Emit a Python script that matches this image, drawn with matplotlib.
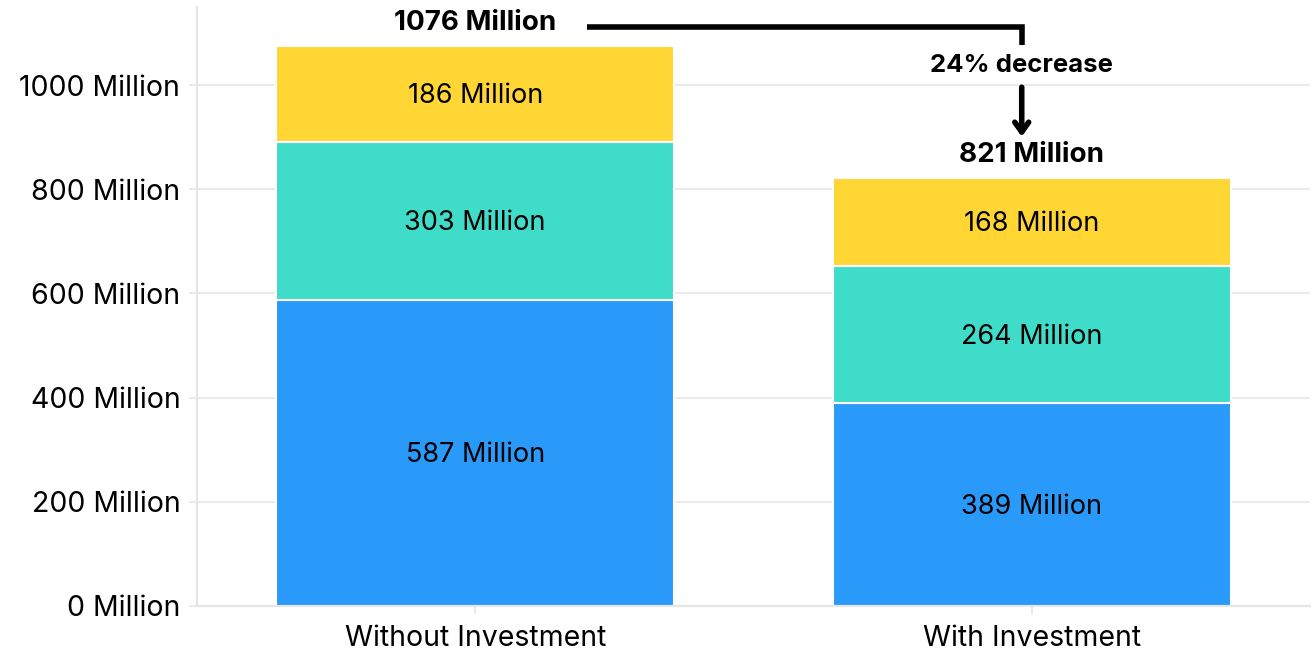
import matplotlib.pyplot as plt

categories = ["Without Investment", "With Investment"]
bottom_vals = [587, 389]
middle_vals = [303, 264]
top_vals = [186, 168]
y_ticks = [0, 200, 400, 600, 800, 1000]

colors = ["#2999FA", "#3FDDC9", "#FFD633"]
plt.rcParams["font.family"] = ["Inter", "DejaVu Sans"]

totals = [a + b + c for a, b, c in zip(bottom_vals, middle_vals, top_vals)]
x = list(range(len(categories)))

fig = plt.figure(figsize=(13.16, 6.51), dpi=100)
ax = fig.add_axes([197 / 1316, 45 / 651, (1310 - 197) / 1316, (606 - 7) / 651])

width = 0.715
base = [0, 0]
for vals, col in zip([bottom_vals, middle_vals, top_vals], colors):
    ax.bar(x, vals, width, bottom=base, color=col, edgecolor="white", linewidth=1.5, zorder=2)
    for xi, b, v in zip(x, base, vals):
        ax.text(xi, b + v / 2 - 4, f"{v} Million", ha="center", va="center", fontsize=19.5, color="black", zorder=3)
    base = [b + v for b, v in zip(base, vals)]

ax.set_xlim(-0.5, 1.5)
ax.set_ylim(0, 1150)
ax.set_yticks(y_ticks)
ax.set_yticklabels([f"{t} Million" for t in y_ticks])
ax.set_xticks(x)
ax.set_xticklabels(categories)
ax.tick_params(axis="both", colors="#e6e6e6", labelcolor="black", length=6, width=1.2)
ax.tick_params(axis="y", labelsize=20.5, pad=6)
ax.tick_params(axis="x", labelsize=20.5, pad=8)
ax.grid(axis="y", color="#ebebeb", linewidth=1.5, zorder=0)
for side in ["top", "right"]:
    ax.spines[side].set_visible(False)
for side in ["left", "bottom"]:
    ax.spines[side].set_color("#e6e6e6")
    ax.spines[side].set_linewidth(1.5)

# total labels
ax.text(x[0], totals[0] + 43, f"{totals[0]} Million", ha="center", va="center",
        fontsize=20, fontweight="bold", zorder=4)
ax.text(x[1], totals[1] + 45, f"{totals[1]} Million", ha="center", va="center",
        fontsize=20, fontweight="bold", zorder=4)

# bracket + arrow
bx = x[1] - 0.018
ly = totals[0] + 35
pct = round((totals[0] - totals[1]) / totals[0] * 100)
ax.text(bx, totals[0] - 38, f"{pct}% decrease", ha="center", va="center", fontsize=18.5,
        fontweight="bold", zorder=4,
        bbox=dict(facecolor="white", edgecolor="none", boxstyle="square,pad=0.15"))
ax.plot([x[0] + 0.2, bx, bx], [ly, ly, totals[0] + 1], color="black", lw=4, solid_capstyle="butt",
        solid_joinstyle="miter", zorder=5)
ax.annotate("", xy=(bx, totals[1] + 80), xytext=(bx, totals[0] - 80),
            arrowprops=dict(arrowstyle="->,head_length=0.7,head_width=0.5", color="black", lw=4,
                            shrinkA=0, shrinkB=0), zorder=5)
# gap in 1000 gridline under the label
ax.plot([bx - 0.23, bx + 0.24], [1000, 1000], color="white", lw=3, zorder=1)

fig.savefig("out.png", dpi=100)
